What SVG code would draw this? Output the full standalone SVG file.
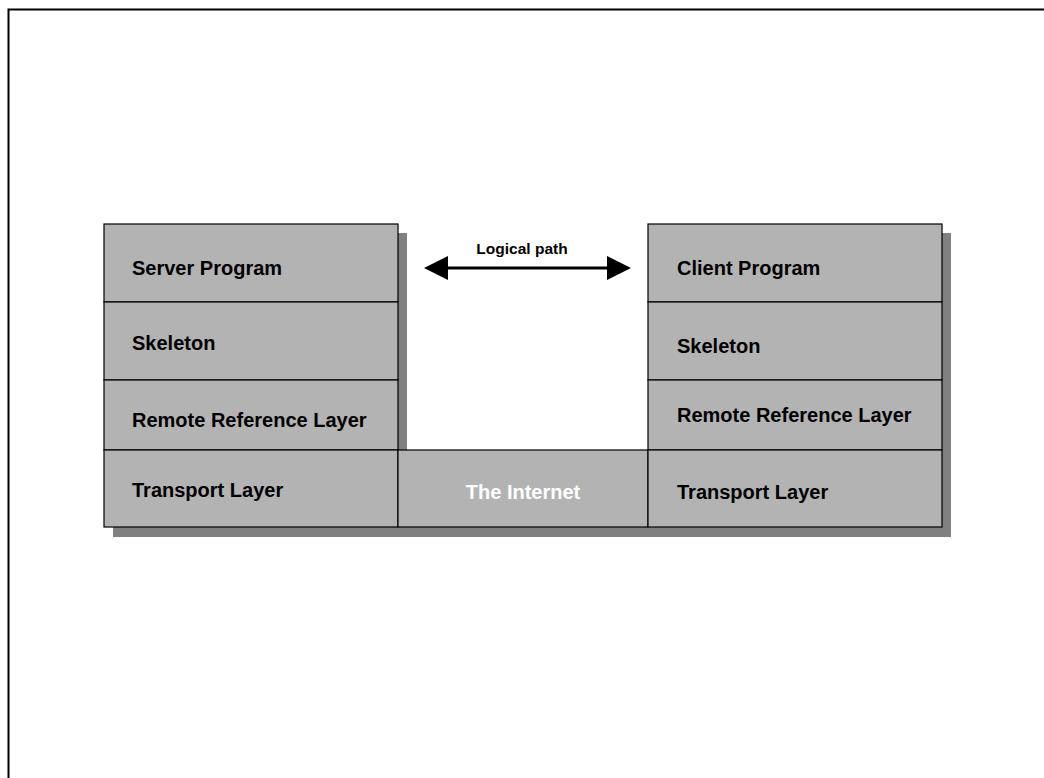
<svg xmlns="http://www.w3.org/2000/svg" width="1044" height="778" viewBox="0 0 1044 778">
  <defs>
    <style>
      .cell { fill: #b3b3b3; stroke: #000; stroke-width: 1.2; }
      .shadow { fill: #808080; }
      .lbl { font-family: "Liberation Sans", Arial, sans-serif; font-weight: bold; font-size: 20px; fill: #000; }
      .lbl-w { font-family: "Liberation Sans", Arial, sans-serif; font-weight: bold; font-size: 20px; fill: #fff; text-anchor: middle; }
      .path-lbl { font-family: "Liberation Sans", Arial, sans-serif; font-weight: bold; font-size: 15.5px; fill: #000; text-anchor: middle; }
    </style>
  </defs>
  <rect x="0" y="0" width="1044" height="778" fill="#fff"/>
  <!-- page frame -->
  <path d="M8.5 778 V9.5 H1044" fill="none" stroke="#000" stroke-width="2"/>

  <!-- drop shadows -->
  <g id="shadows">
    <rect class="shadow" x="113" y="233" width="294" height="304"/>
    <rect class="shadow" x="657" y="233" width="294" height="304"/>
    <rect class="shadow" x="407" y="459" width="250" height="78"/>
  </g>

  <!-- server stack -->
  <g id="server-program">
    <rect class="cell" x="104" y="224" width="294" height="78"/>
    <text class="lbl" x="132" y="275">Server Program</text>
  </g>
  <g id="server-skeleton">
    <rect class="cell" x="104" y="302" width="294" height="78"/>
    <text class="lbl" x="132" y="350">Skeleton</text>
  </g>
  <g id="server-rrl">
    <rect class="cell" x="104" y="380" width="294" height="70"/>
    <text class="lbl" x="132" y="427">Remote Reference Layer</text>
  </g>
  <g id="server-transport">
    <rect class="cell" x="104" y="450" width="294" height="77"/>
    <text class="lbl" x="132" y="497">Transport Layer</text>
  </g>

  <!-- network -->
  <g id="internet">
    <rect class="cell" x="398" y="450" width="250" height="77"/>
    <text class="lbl-w" x="523" y="499">The Internet</text>
  </g>

  <!-- client stack -->
  <g id="client-program">
    <rect class="cell" x="648" y="224" width="294" height="78"/>
    <text class="lbl" x="677" y="275">Client Program</text>
  </g>
  <g id="client-skeleton">
    <rect class="cell" x="648" y="302" width="294" height="78"/>
    <text class="lbl" x="677" y="353">Skeleton</text>
  </g>
  <g id="client-rrl">
    <rect class="cell" x="648" y="380" width="294" height="70"/>
    <text class="lbl" x="677" y="422">Remote Reference Layer</text>
  </g>
  <g id="client-transport">
    <rect class="cell" x="648" y="450" width="294" height="77"/>
    <text class="lbl" x="677" y="499">Transport Layer</text>
  </g>

  <!-- logical path connector -->
  <g id="connectors">
    <line x1="446" y1="268" x2="609" y2="268" stroke="#000" stroke-width="3"/>
    <polygon points="424,268 448,256 448,280" fill="#000"/>
    <polygon points="631,268 607,256 607,280" fill="#000"/>
    <text class="path-lbl" x="522" y="254">Logical path</text>
  </g>
</svg>
